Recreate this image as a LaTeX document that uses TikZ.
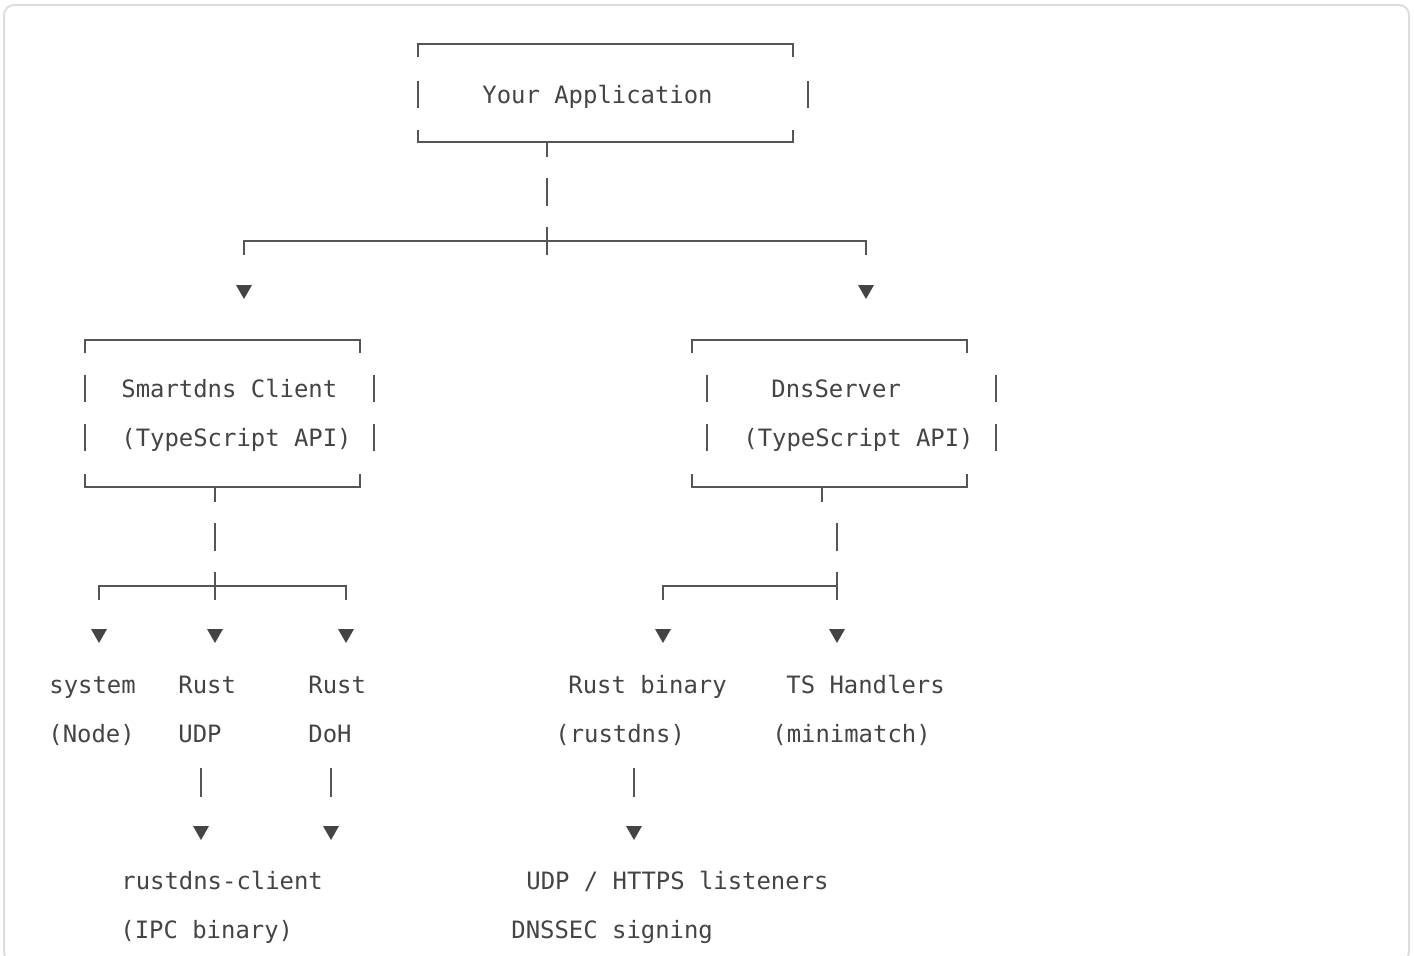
\documentclass[tikz,border=0pt]{standalone}
\usepackage{fontspec}
\newfontfamily\asciimono{DejaVu Sans Mono}
\definecolor{ink}{HTML}{444444}
\definecolor{rulecol}{HTML}{555555}
\definecolor{framecol}{HTML}{DDDDDD}
\begin{document}
\begin{tikzpicture}[x=0.5pt,y=-0.5pt,
  lbl/.style={anchor=base west,inner sep=0pt,font=\asciimono\fontsize{11.95}{14}\selectfont,text=ink},
  ln/.style={draw=rulecol,line width=0.75pt},
  dn/.pic={\fill[ink] (-8,-7) -- (8,-7) -- (0,7) -- cycle;}]
\useasboundingbox (0,0) rectangle (1414,955);
\begin{scope}
  \clip (0,0) rectangle (1414,955);
  \draw[framecol,line width=1pt,rounded corners=5pt] (4,5) rectangle (1409,962);
\end{scope}

% ---------- Your Application ----------
\node[lbl] (app) at (482,103) {Your Application};
\draw[ln] (418,57) -- (418,44) -- (793,44) -- (793,57);
\draw[ln] (418,130) -- (418,142) -- (793,142) -- (793,130);
\draw[ln] (418,81) -- (418,108);
\draw[ln] (808,81) -- (808,108);
\coordinate (appout) at (547,142);
\draw[ln] (appout) -- ++(0,15);
\draw[ln] (547,178) -- (547,206);
% top junction
\coordinate (tj) at (547,241);
\draw[ln] (244,255) -- (244,241) -- (866,241) -- (866,255);
\draw[ln] (547,227) -- (547,255);
\pic at (244,292) {dn};
\pic at (866,292) {dn};

% ---------- Smartdns Client ----------
\node[lbl] (sc1) at (121,397) {Smartdns Client};
\node[lbl] (sc2) at (121,446) {(TypeScript API)};
\draw[ln] (85,353) -- (85,340) -- (360,340) -- (360,353);
\draw[ln] (85,474) -- (85,487) -- (360,487) -- (360,474);
\draw[ln] (85,375) -- (85,402);
\draw[ln] (85,424) -- (85,451);
\draw[ln] (374,375) -- (374,402);
\draw[ln] (374,424) -- (374,451);
\draw[ln] (215,487) -- (215,502);
\draw[ln] (215,523) -- (215,551);
\draw[ln] (99,600) -- (99,586) -- (346,586) -- (346,600);
\draw[ln] (215,572) -- (215,600);
\pic at (99,636) {dn};
\pic at (215,636) {dn};
\pic at (346,636) {dn};

\node[lbl] (sys1) at (49,693) {system};
\node[lbl] (sys2) at (48,742) {(Node)};
\node[lbl] (udp1) at (178,693) {Rust};
\node[lbl] (udp2) at (178,742) {UDP};
\node[lbl] (doh1) at (308,693) {Rust};
\node[lbl] (doh2) at (308,742) {DoH};
\draw[ln] (201,768) -- (201,797);
\draw[ln] (331,768) -- (331,797);
\pic at (201,833) {dn};
\pic at (331,833) {dn};
\node[lbl] (rc1) at (121,889) {rustdns-client};
\node[lbl] (rc2) at (120,938) {(IPC binary)};

% ---------- DnsServer ----------
\node[lbl] (ds1) at (771,397) {DnsServer};
\node[lbl] (ds2) at (743,446) {(TypeScript API)};
\draw[ln] (692,353) -- (692,340) -- (967,340) -- (967,353);
\draw[ln] (692,474) -- (692,487) -- (967,487) -- (967,474);
\draw[ln] (707,375) -- (707,402);
\draw[ln] (707,424) -- (707,451);
\draw[ln] (996,375) -- (996,402);
\draw[ln] (996,424) -- (996,451);
\draw[ln] (822,487) -- (822,502);
\draw[ln] (837,523) -- (837,551);
\draw[ln] (663,600) -- (663,586) -- (837,586);
\draw[ln] (837,572) -- (837,600);
\pic at (663,636) {dn};
\pic at (837,636) {dn};

\node[lbl] (rb1) at (568,693) {Rust binary};
\node[lbl] (rb2) at (555,742) {(rustdns)};
\node[lbl] (ts1) at (786,693) {TS Handlers};
\node[lbl] (ts2) at (772,742) {(minimatch)};
\draw[ln] (634,768) -- (634,797);
\pic at (634,833) {dn};
\node[lbl] (ul1) at (526,889) {UDP / HTTPS listeners};
\node[lbl] (ul2) at (511,938) {DNSSEC signing};
\end{tikzpicture}
\end{document}
